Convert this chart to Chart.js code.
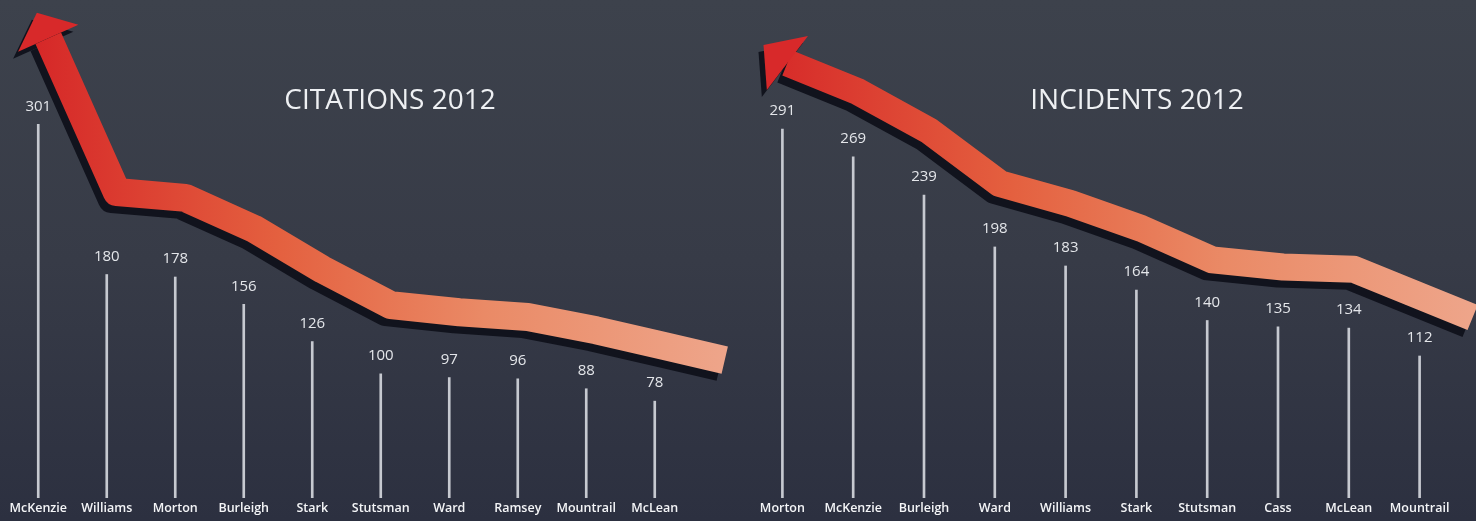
<!DOCTYPE html>
<html>
<head>
<meta charset="utf-8">
<script src="https://cdn.jsdelivr.net/npm/chart.js@4.4.0/dist/chart.umd.min.js"></script>
<style>
html, body { margin: 0; padding: 0; }
body {
    width: 1476px; height: 521px; overflow: hidden; display: flex;
    background: linear-gradient(180deg, #3d424c 0%, #373b47 50%, #2c3040 100%);
}
.panel { width: 738px; height: 521px; }
</style>
</head>
<body>
<div class="panel"><canvas id="citations" width="738" height="521"></canvas></div>
<div class="panel"><canvas id="incidents" width="738" height="521"></canvas></div>
<script>
// Citations and incidents by county, 2012

const citationCounties = ['McKenzie', 'Williams', 'Morton', 'Burleigh', 'Stark', 'Stutsman', 'Ward', 'Ramsey', 'Mountrail', 'McLean'];
const citationValues = [301, 180, 178, 156, 126, 100, 97, 96, 88, 78];

const incidentCounties = ['Morton', 'McKenzie', 'Burleigh', 'Ward', 'Williams', 'Stark', 'Stutsman', 'Cass', 'McLean', 'Mountrail'];
const incidentValues = [291, 269, 239, 198, 183, 164, 140, 135, 134, 112];

// thick red arrow that runs above the stems
const arrowPlugin = {
    id: 'arrow',
    afterDatasetsDraw(chart, args, opts) {
        const bars = chart.getDatasetMeta(0).data;
        const n = bars.length;
        const pts = bars.map((b, i) => {
            const off = opts.offStart + (opts.offEnd - opts.offStart) * i / (n - 1);
            return { x: b.x + opts.dx, y: b.y - off };
        });
        const a = pts[n - 2], b = pts[n - 1];
        const t = opts.extend / (b.x - a.x);
        pts.push({ x: b.x + opts.extend, y: b.y + (b.y - a.y) * t });

        const p0 = pts[0], p1 = pts[1];
        let ux = p0.x - p1.x, uy = p0.y - p1.y + opts.tilt;
        const len = Math.hypot(ux, uy);
        ux /= len; uy /= len;
        const nx = -uy, ny = ux;
        const head = [
            { x: p0.x + ux * opts.headLen, y: p0.y + uy * opts.headLen },
            { x: p0.x + nx * opts.headWidth, y: p0.y + ny * opts.headWidth },
            { x: p0.x - nx * opts.headWidth, y: p0.y - ny * opts.headWidth }
        ];

        const ctx = chart.ctx;
        const draw = (stroke, fill, ox, oy) => {
            ctx.save();
            ctx.translate(ox, oy);
            ctx.lineWidth = opts.width;
            ctx.lineJoin = 'round';
            ctx.lineCap = 'butt';
            ctx.strokeStyle = stroke;
            ctx.beginPath();
            pts.forEach((p, i) => i ? ctx.lineTo(p.x, p.y) : ctx.moveTo(p.x, p.y));
            ctx.stroke();
            ctx.fillStyle = fill;
            ctx.beginPath();
            ctx.moveTo(head[0].x, head[0].y);
            ctx.lineTo(head[1].x, head[1].y);
            ctx.lineTo(head[2].x, head[2].y);
            ctx.closePath();
            ctx.fill();
            ctx.restore();
        };
        draw('#11131d', '#11131d', -5, 7);

        const last = pts[pts.length - 1];
        const g = ctx.createLinearGradient(head[0].x, 0, last.x, 0);
        g.addColorStop(0, '#d62828');
        g.addColorStop(0.35, '#e4603f');
        g.addColorStop(0.65, '#ea8a66');
        g.addColorStop(1, '#eea58a');
        draw(g, '#d8292a', 0, 0);
    }
};

// value labels over each stem plus the panel title
const labelPlugin = {
    id: 'labels',
    afterDatasetsDraw(chart, args, opts) {
        const ctx = chart.ctx;
        const vals = chart.data.datasets[0].data;
        ctx.save();
        ctx.fillStyle = '#e4e6ea';
        ctx.textAlign = 'center';
        ctx.textBaseline = 'middle';
        ctx.font = '15px "Open Sans"';
        chart.getDatasetMeta(0).data.forEach((b, i) => {
            ctx.fillText(String(vals[i]), b.x, b.y - opts.gap);
        });
        ctx.fillStyle = '#eef0f3';
        ctx.font = '28px "Open Sans"';
        ctx.fillText(opts.title, opts.titleX, opts.titleY);
        ctx.restore();
    }
};

function makeChart(id, labels, values, cfg) {
    const ctx = document.getElementById(id).getContext('2d');
    return new Chart(ctx, {
        type: 'bar',
        data: {
            labels: labels,
            datasets: [{ data: values, backgroundColor: '#c6c9d0', barThickness: 2 }]
        },
        options: {
            responsive: false,
            animation: false,
            layout: { padding: { left: cfg.padLeft, right: cfg.padRight, top: 20, bottom: 2 } },
            plugins: {
                legend: { display: false },
                tooltip: { enabled: false },
                arrow: cfg.arrow,
                labels: { gap: 18, title: cfg.title, titleX: cfg.titleX, titleY: 101 }
            },
            scales: {
                x: {
                    grid: { display: false, drawTicks: false },
                    border: { display: false },
                    ticks: { color: '#f4f5f7', padding: 3, autoSkip: false, maxRotation: 0,
                             font: { family: '"Open Sans"', size: 12.5, weight: '600' } }
                },
                y: { display: false, min: 0, max: cfg.yMax }
            }
        },
        plugins: [labelPlugin, arrowPlugin]
    });
}

makeChart('citations', citationCounties, citationValues, {
    padLeft: 4, padRight: 49, yMax: 385, title: 'CITATIONS 2012', titleX: 390,
    arrow: { dx: 10, offStart: 86, offEnd: 55, extend: 60, width: 28, headLen: 28, headWidth: 33, tilt: 0 }
});

makeChart('incidents', incidentCounties, incidentValues, {
    padLeft: 9, padRight: 21, yMax: 377, title: 'INCIDENTS 2012', titleX: 399,
    arrow: { dx: 5, offStart: 66, offEnd: 58, extend: 48, width: 27, headLen: 30, headWidth: 34, tilt: -25 }
});
</script>
</body>
</html>
